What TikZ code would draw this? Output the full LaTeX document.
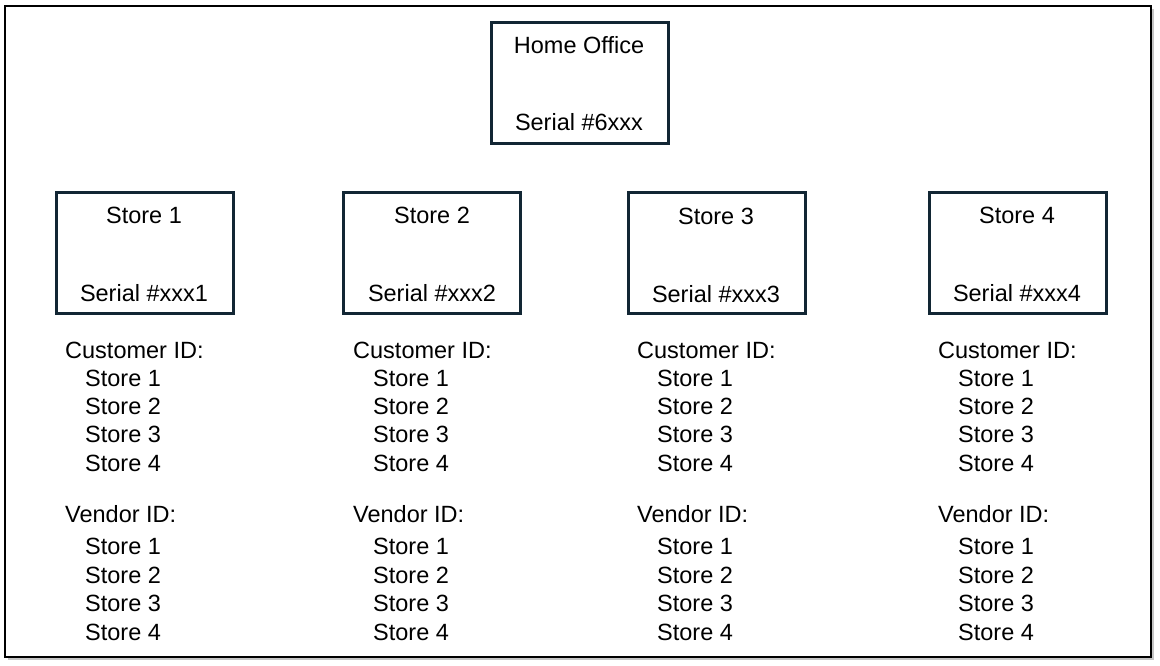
\documentclass[tikz,border=0pt]{standalone}
\usepackage{fontspec}
\setmainfont{Liberation Sans}
\usetikzlibrary{shadows}

\definecolor{boxline}{RGB}{18,38,52}

\tikzset{
  unitbox/.style={draw=boxline, line width=2.3pt, minimum width=177pt, minimum height=121pt, inner sep=0pt},
  boxtext/.style={font=\fontsize{23.5}{28}\selectfont, inner sep=0pt, anchor=base},
  listtext/.style={font=\fontsize{23.5}{28}\selectfont, inner sep=0pt, anchor=base west},
}

\begin{document}
\begin{tikzpicture}[x=1pt,y=-1pt]
\useasboundingbox (0,0) rectangle (1160,665);

% outer frame
\draw [line width=1.4pt, fill=white, drop shadow={shadow xshift=3pt, shadow yshift=-3pt, fill=black!45, opacity=.5}] (5,6) rectangle (1151,657);

% home office
\node [unitbox] (home) at (580,83) {};
\node [boxtext] (homename) at (579,53) {Home Office};
\node [boxtext] (homeserial) at (579,130) {Serial \#6xxx};

% stores
\node [unitbox] (store1) at (145,253) {};
\node [boxtext] (store1name) at (144,223) {Store 1};
\node [boxtext] (store1serial) at (144,301) {Serial \#xxx1};

\node [unitbox] (store2) at (432,253) {};
\node [boxtext] (store2name) at (432,223) {Store 2};
\node [boxtext] (store2serial) at (432,301) {Serial \#xxx2};

\node [unitbox] (store3) at (717,253) {};
\node [boxtext] (store3name) at (716,224) {Store 3};
\node [boxtext] (store3serial) at (716,302) {Serial \#xxx3};

\node [unitbox] (store4) at (1018,253) {};
\node [boxtext] (store4name) at (1017,223) {Store 4};
\node [boxtext] (store4serial) at (1017,301) {Serial \#xxx4};

% id lists under each store
\foreach \col/\cx in {1/65, 2/353, 3/637, 4/938} {
  \node [listtext] (cust\col) at (\cx,358) {Customer ID:};
  \foreach \row/\cy in {1/386, 2/414, 3/442, 4/471}
    \node [listtext] (cust\col-\row) at (\cx+20,\cy) {Store \row};
  \node [listtext] (vend\col) at (\cx,522) {Vendor ID:};
  \foreach \row/\cy in {1/554, 2/583, 3/611, 4/640}
    \node [listtext] (vend\col-\row) at (\cx+20,\cy) {Store \row};
}

\end{tikzpicture}
\end{document}
